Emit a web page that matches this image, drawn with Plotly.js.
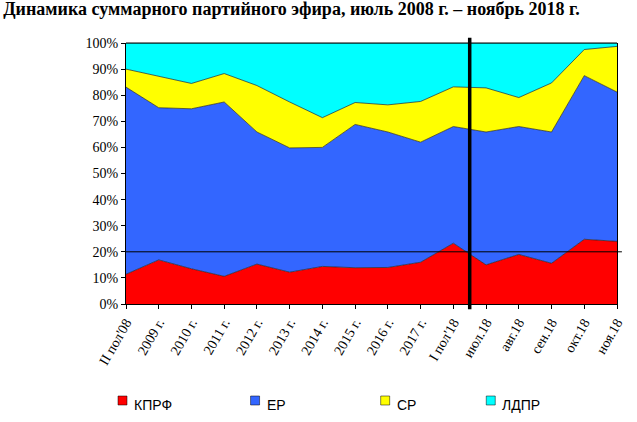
<!DOCTYPE html>
<html><head><meta charset="utf-8">
<script src="https://cdn.plot.ly/plotly-3.0.1.min.js"></script>
<style>body{margin:0;background:#fff}#c{width:637px;height:422px}</style>
</head><body><div id="c"></div>
<script>
const categories = ["II пол'08","2009 г.","2010 г.","2011 г.","2012 г.","2013 г.","2014 г.","2015 г.","2016 г.","2017 г.","I пол'18","июл.18","авг.18","сен.18","окт.18","ноя.18"];
const kprf = [11.4,16.9,13.5,10.6,15.3,12.2,14.4,13.9,14.0,16.0,23.3,15.0,19.0,15.6,24.8,24.0];
const er   = [71.7,58.3,61.3,66.8,50.6,47.6,45.6,54.9,51.9,46.0,44.7,50.9,49.0,50.3,62.7,57.2];
const sr   = [6.9,12.1,9.7,10.9,17.8,17.6,11.4,8.4,10.4,15.6,15.2,16.9,11.1,18.8,10.0,17.5];
const ldpr = [10.0,12.7,15.5,11.7,16.3,22.6,28.6,22.8,23.7,22.4,16.8,17.2,20.9,15.3,2.5,1.3];
const names = ["КПРФ","ЕР","СР","ЛДПР"];
const colors = ["#ff0000","#3366ff","#ffff00","#00ffff"];
const series = [kprf, er, sr, ldpr];
const traces = series.map((v,i)=>({
  x: categories.map((c,j)=>j), y: v, name: names[i], type:'scatter', mode:'lines',
  stackgroup:'one', fillcolor: colors[i], line:{color:'#222', width:0.7}, showlegend:false
}));
const legendPos = [0.0, 0.27, 0.535, 0.75];
const annotations = [];
const shapes = [
  {type:'line', xref:'paper', yref:'y', x0:0, x1:1.01, y0:20, y1:20, line:{color:'#000', width:1}},
  {type:'line', xref:'x', yref:'paper', x0:10.5, x1:10.5, y0:-0.02, y1:1.02, line:{color:'#000', width:3.5}},
  {type:'line', xref:'paper', yref:'paper', x0:0, x1:1, y0:1, y1:1, line:{color:'#000', width:1}}
];
names.forEach((n,i)=>{
  const px = 118 + legendPos[i]*491; // pixel x of square
  shapes.push({type:'rect', xref:'paper', yref:'paper', x0:(px-126)/491, x1:(px-126+9)/491,
    y0:-(401-304+4)/261, y1:-(401-304-5)/261, fillcolor:colors[i], line:{color:'#000', width:0.5}});
  annotations.push({xref:'paper', yref:'paper', x:(px-126+14)/491, y:-(405-304)/261, xanchor:'left', yanchor:'middle',
    text:n, showarrow:false, font:{size:14, family:'Liberation Sans, Arial, sans-serif'}});
});
const layout = {
  width:637, height:422, margin:{l:126,r:20,t:43,b:118},
  paper_bgcolor:'#fff', plot_bgcolor:'#fff',
  font:{family:'Liberation Serif, Times New Roman, serif', size:14, color:'#000'},
  title:{text:'<b>Динамика суммарного партийного эфира, июль 2008 г. – ноябрь 2018 г.</b>', x:0.005, xanchor:'left', y:0.995, yanchor:'top', font:{size:18}},
  xaxis:{range:[0,15], tickvals:categories.map((c,j)=>j), ticktext:categories, tickangle:-60,
    showgrid:false, zeroline:false, showline:true, linecolor:'#000', ticks:'outside', ticklen:4, tickcolor:'#000'},
  yaxis:{range:[0,100], dtick:10, ticksuffix:'%', showgrid:false, zeroline:false, showline:true, linecolor:'#000',
    ticks:'outside', ticklen:4, tickcolor:'#000', mirror:true},
  showlegend:false, shapes, annotations
};
layout.margin.b = 118;
layout.height = 422;
// plot bottom at y=304 -> b = 422-304
Plotly.newPlot('c', traces, layout, {displayModeBar:false, staticPlot:true});
</script></body></html>
